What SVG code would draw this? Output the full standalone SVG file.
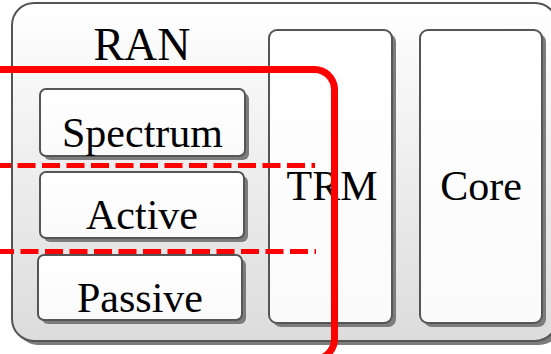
<svg xmlns="http://www.w3.org/2000/svg" width="551" height="354" viewBox="0 0 551 354">
  <defs>
    <linearGradient id="outerFill" x1="0" y1="0" x2="0" y2="1">
      <stop offset="0" stop-color="#ffffff"/>
      <stop offset="1" stop-color="#dcdcdc"/>
    </linearGradient>
    <linearGradient id="boxFill" x1="0" y1="0" x2="0" y2="1">
      <stop offset="0" stop-color="#ffffff"/>
      <stop offset="1" stop-color="#fafafa"/>
    </linearGradient>
  </defs>
  <style>
    .shadow { fill: #7c7c7c; }
    .frame { fill: url(#outerFill); stroke: #555555; stroke-width: 2; }
    .box { fill: url(#boxFill); stroke: #555555; stroke-width: 2; }
    .label { font-family: "Liberation Serif", "Times New Roman", serif; fill: #000000; text-anchor: middle; }
    .solid { fill: none; stroke: #ff0000; stroke-width: 7; }
    .dashed { fill: none; stroke: #ff0000; stroke-width: 5; stroke-dasharray: 18 6.5; }
  </style>

  <!-- RAN container -->
  <g id="ran">
    <rect class="shadow" x="16" y="7" width="545" height="338" rx="22"/>
    <rect class="frame" x="12" y="3" width="545" height="338" rx="22"/>
    <text class="label" x="142" y="60" font-size="46">RAN</text>
  </g>

  <g id="spectrum">
    <rect class="shadow" x="44" y="93" width="205" height="67" rx="6"/>
    <rect class="box" x="40" y="89" width="205" height="67" rx="6"/>
    <text class="label" x="142.5" y="147" font-size="42">Spectrum</text>
  </g>

  <g id="active">
    <rect class="shadow" x="44" y="176" width="204" height="66" rx="6"/>
    <rect class="box" x="40" y="172" width="204" height="66" rx="6"/>
    <text class="label" x="142" y="229" font-size="42">Active</text>
  </g>

  <g id="passive">
    <rect class="shadow" x="42" y="259" width="204" height="65" rx="6"/>
    <rect class="box" x="38" y="255" width="204" height="65" rx="6"/>
    <text class="label" x="140" y="312" font-size="42">Passive</text>
  </g>

  <g id="trm">
    <rect class="shadow" x="273" y="34" width="123" height="293" rx="8"/>
    <rect class="box" x="269" y="30" width="123" height="293" rx="8"/>
    <text class="label" x="332" y="200" font-size="42">TRM</text>
  </g>

  <g id="core">
    <rect class="shadow" x="424" y="34" width="122" height="293" rx="8"/>
    <rect class="box" x="420" y="30" width="122" height="293" rx="8"/>
    <text class="label" x="481" y="200" font-size="42">Core</text>
  </g>

  <!-- boundary lines -->
  <g id="connectors">
    <path class="solid" d="M0,69.5 H314 A20,20 0 0 1 334.5,89.5 V339 A20,20 0 0 1 314.5,359 H0"/>
    <line class="dashed" x1="0" y1="165.5" x2="315" y2="165.5" stroke-dashoffset="7"/>
    <line class="dashed" x1="0" y1="251.5" x2="316" y2="251.5" stroke-dashoffset="4"/>
  </g>
</svg>
